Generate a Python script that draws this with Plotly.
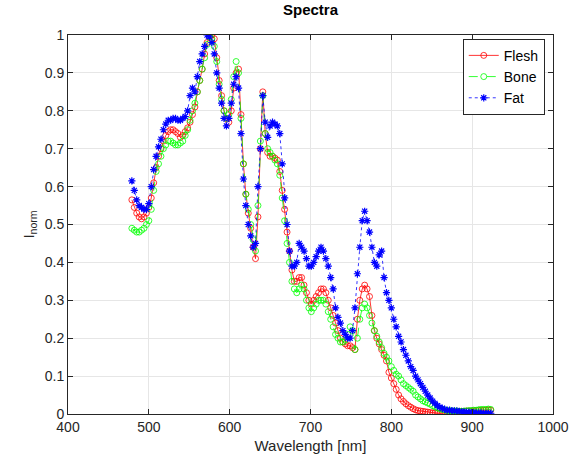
import plotly.graph_objects as go

wavelength = list(range(479, 924, 3))

flesh = [
    0.565, 0.545, 0.53, 0.52, 0.515, 0.52, 0.53, 0.545, 0.57, 0.61,
    0.65, 0.68, 0.70, 0.72, 0.735, 0.745, 0.75, 0.75, 0.745, 0.74,
    0.73, 0.735, 0.745, 0.755, 0.77, 0.79, 0.81, 0.85, 0.88, 0.91,
    0.95, 0.98, 0.995, 1.0, 0.99, 0.94, 0.88, 0.84, 0.80, 0.78,
    0.77, 0.80, 0.86, 0.90, 0.91, 0.79, 0.66, 0.58, 0.53, 0.49,
    0.44, 0.41, 0.52, 0.70, 0.85, 0.74, 0.69, 0.68, 0.68, 0.675,
    0.67, 0.64, 0.59, 0.54, 0.48, 0.43, 0.38, 0.35, 0.35, 0.36,
    0.36, 0.34, 0.32, 0.30, 0.29, 0.30, 0.31, 0.32, 0.33, 0.33,
    0.32, 0.30, 0.28, 0.26, 0.24, 0.22, 0.20, 0.19, 0.185, 0.18,
    0.18, 0.175, 0.17, 0.25, 0.30, 0.33, 0.34, 0.33, 0.31, 0.26,
    0.22, 0.20, 0.185, 0.17, 0.155, 0.14, 0.11, 0.095, 0.08, 0.065,
    0.05, 0.04, 0.033, 0.027, 0.022, 0.018, 0.014, 0.011, 0.009, 0.008,
    0.007, 0.006, 0.005, 0.004, 0.003, 0.003, 0.002, 0.002, 0.002, 0.003,
    0.003, 0.004, 0.004, 0.005, 0.006, 0.006, 0.007, 0.007, 0.008, 0.008,
    0.008, 0.009, 0.009, 0.010, 0.009, 0.010, 0.010, 0.011, 0.010,
]

bone = [
    0.49, 0.485, 0.48, 0.48, 0.485, 0.49, 0.50, 0.51, 0.54, 0.59,
    0.64, 0.66, 0.68, 0.70, 0.71, 0.72, 0.72, 0.715, 0.71, 0.71,
    0.715, 0.72, 0.735, 0.75, 0.775, 0.80, 0.82, 0.85, 0.88, 0.91,
    0.94, 0.975, 0.995, 0.99, 0.97, 0.93, 0.87, 0.83, 0.80, 0.78,
    0.79, 0.83, 0.89, 0.93, 0.90, 0.78, 0.66, 0.58, 0.54, 0.50,
    0.46, 0.43, 0.55, 0.72, 0.84, 0.74, 0.70, 0.69, 0.68, 0.67,
    0.66, 0.63, 0.57, 0.51, 0.45, 0.40, 0.35, 0.33, 0.32, 0.33,
    0.34, 0.33, 0.30, 0.28, 0.27, 0.28, 0.29, 0.30, 0.30, 0.30,
    0.29, 0.27, 0.25, 0.23, 0.21, 0.20, 0.19, 0.19, 0.195, 0.21,
    0.23, 0.22, 0.17, 0.20, 0.25, 0.28, 0.29, 0.28, 0.26, 0.24,
    0.22, 0.205, 0.19, 0.175, 0.16, 0.15, 0.14, 0.125, 0.115, 0.105,
    0.10, 0.09, 0.08, 0.075, 0.07, 0.065, 0.06, 0.05, 0.045, 0.04,
    0.035, 0.032, 0.029, 0.026, 0.022, 0.019, 0.016, 0.014, 0.012, 0.011,
    0.009, 0.009, 0.008, 0.008, 0.008, 0.007, 0.007, 0.008, 0.008, 0.009,
    0.009, 0.010, 0.010, 0.011, 0.012, 0.012, 0.012, 0.013, 0.012,
]

fat = [
    0.615, 0.59, 0.565, 0.55, 0.545, 0.54, 0.54, 0.555, 0.60, 0.645,
    0.68, 0.705, 0.725, 0.75, 0.765, 0.775, 0.775, 0.78, 0.78, 0.775,
    0.775, 0.78, 0.785, 0.80, 0.84, 0.86, 0.85, 0.89, 0.93, 0.95,
    0.97, 1.0, 0.995, 0.98, 0.95, 0.90, 0.86, 0.82, 0.78, 0.76,
    0.78, 0.82, 0.87, 0.89, 0.86, 0.74, 0.62, 0.55, 0.50, 0.47,
    0.44, 0.45, 0.60, 0.70, 0.84, 0.77, 0.73, 0.76, 0.77, 0.765,
    0.76, 0.74, 0.66, 0.57, 0.50, 0.43, 0.39, 0.39, 0.40, 0.45,
    0.44, 0.43, 0.41, 0.39, 0.39, 0.40, 0.415, 0.43, 0.44, 0.43,
    0.41, 0.39, 0.36, 0.33, 0.28, 0.255, 0.24, 0.22, 0.21, 0.20,
    0.20, 0.22, 0.28, 0.37, 0.44, 0.51, 0.535, 0.51, 0.48, 0.44,
    0.40, 0.39, 0.42, 0.43, 0.36, 0.32, 0.30, 0.28, 0.25, 0.23,
    0.205, 0.19, 0.17, 0.155, 0.14, 0.125, 0.115, 0.10, 0.09, 0.08,
    0.07, 0.06, 0.05, 0.042, 0.034, 0.028, 0.022, 0.018, 0.015, 0.012,
    0.010, 0.010, 0.009, 0.008, 0.008, 0.007, 0.006, 0.006, 0.005, 0.005,
    0.004, 0.004, 0.003, 0.003, 0.003, 0.002, 0.002, 0.002, 0.002,
]

x_ticks = [400, 500, 600, 700, 800, 900, 1000]
y_ticks = [0, 0.1, 0.2, 0.3, 0.4, 0.5, 0.6, 0.7, 0.8, 0.9, 1]
y_tick_labels = ["0", "0.1", "0.2", "0.3", "0.4", "0.5", "0.6", "0.7", "0.8", "0.9", "1"]

FONT = "Liberation Sans, Arial, Helvetica, sans-serif"

fig = go.Figure()
fig.add_trace(go.Scatter(
    x=wavelength, y=flesh, name="Flesh", mode="lines+markers",
    line=dict(color="#ff0000", width=0.8, dash="solid"),
    marker=dict(symbol="circle-open", size=6, color="#ff0000", line=dict(width=0.8)),
))
fig.add_trace(go.Scatter(
    x=wavelength, y=bone, name="Bone", mode="lines+markers",
    line=dict(color="#00ff00", width=0.8, dash="dash"),
    marker=dict(symbol="circle-open", size=6, color="#00ff00", line=dict(width=0.8)),
))
fig.add_trace(go.Scatter(
    x=wavelength, y=fat, name="Fat", mode="lines+markers",
    line=dict(color="#0000ff", width=0.8, dash="dot"),
    marker=dict(symbol="asterisk-open", size=6, color="#0000ff", line=dict(width=1.2, color="#0000ff")),
))

axis_common = dict(
    showline=True, linecolor="#262626", linewidth=1, mirror="ticks",
    ticks="inside", ticklen=5, tickcolor="#262626",
    showgrid=True, gridcolor="#e6e6e6", gridwidth=1, zeroline=False,
    automargin=False,
    tickfont=dict(family=FONT, size=14, color="#262626"),
)

fig.update_layout(
    width=574, height=468,
    margin=dict(l=68, r=21, t=35, b=54),
    paper_bgcolor="white", plot_bgcolor="white",
    title=dict(text="<b>Spectra</b>", x=0.541, xanchor="center", y=0.99, yanchor="top",
               font=dict(family=FONT, size=15, color="#000000")),
    xaxis=dict(range=[400, 1000], tickvals=x_ticks, ticktext=[str(v) for v in x_ticks],
               title=dict(text="Wavelength [nm]", font=dict(family=FONT, size=15, color="#262626"), standoff=6),
               **axis_common),
    yaxis=dict(range=[0, 1], tickvals=y_ticks, ticktext=y_tick_labels,
               title=dict(text="I<sub>norm</sub>", font=dict(family=FONT, size=15, color="#262626"), standoff=6),
               **axis_common),
    legend=dict(x=0.983, xanchor="right", y=0.99, yanchor="top",
                bgcolor="white", bordercolor="#262626", borderwidth=1,
                font=dict(family=FONT, size=14, color="#000000"),
                itemwidth=30, tracegroupgap=0),
    showlegend=True,
)

fig.write_html("out.html", config={"displayModeBar": False},
               post_script="document.body.style.margin='0';")
